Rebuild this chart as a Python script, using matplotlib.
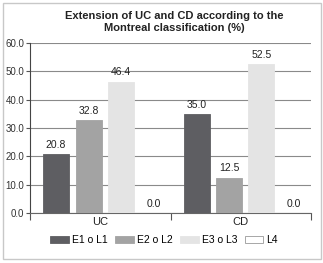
import numpy as np
import matplotlib
matplotlib.use('Agg')
import matplotlib.pyplot as plt
from matplotlib.patches import Rectangle

plt.rcParams['font.family'] = ['Liberation Sans', 'DejaVu Sans']

categories = ['UC', 'CD']
series_names = ['E1 o L1', 'E2 o L2', 'E3 o L3', 'L4']
values = {
    'E1 o L1': [20.8, 35.0],
    'E2 o L2': [32.8, 12.5],
    'E3 o L3': [46.4, 52.5],
    'L4': [0.0, 0.0],
}
colors = ['#5e5e62', '#a3a3a3', '#e4e4e4', '#ffffff']
y_ticks = [0, 10, 20, 30, 40, 50, 60]

fig = plt.figure(figsize=(3.23, 2.63), dpi=100)
fig.patch.set_facecolor('white')
fig.patches.append(Rectangle((3 / 323, 4 / 263), 318 / 323, 256 / 263,
                             transform=fig.transFigure, fill=False,
                             edgecolor='#c8c8c8', linewidth=1.0))

ax = fig.add_axes([30 / 323, 50 / 263, 281 / 323, 170 / 263])

x = np.arange(len(categories))
slot = 0.231
width = 0.185
shift = 0.032
for i, name in enumerate(series_names):
    pos = x + shift + (i - 1.5) * slot
    bars = ax.bar(pos, values[name], width, color=colors[i], label=name,
                  edgecolor=colors[i] if i < 3 else '#ffffff', linewidth=0.6,
                  zorder=3)
    for b, v in zip(bars, values[name]):
        ax.text(b.get_x() + b.get_width() / 2, v + 1.5, f'{v:.1f}',
                ha='center', va='bottom', fontsize=7.5, color='#222222')

ax.set_xlim(-0.5, 1.5)
ax.set_ylim(0, 60)
ax.set_yticks(y_ticks)
ax.set_yticklabels([f'{t:.1f}' for t in y_ticks], fontsize=7, color='#333333')
ax.yaxis.grid(True, color='#8a8a8a', linewidth=0.8, zorder=0)
ax.set_axisbelow(True)

ax.set_xticks([-0.5, 0.5, 1.5])
ax.set_xticklabels([])
ax.set_xticks(x, minor=True)
ax.set_xticklabels(categories, minor=True, fontsize=8, color='#222222')
ax.tick_params(axis='x', which='major', length=5, color='#555555', width=0.8)
ax.tick_params(axis='x', which='minor', length=0, pad=3)
ax.tick_params(axis='y', length=3, color='#555555', width=0.8, pad=1)

for s in ['top', 'right']:
    ax.spines[s].set_visible(False)
ax.spines['left'].set_color('#444444')
ax.spines['bottom'].set_color('#666666')
ax.spines['left'].set_linewidth(0.8)
ax.spines['bottom'].set_linewidth(0.8)

fig.text(174 / 323, 1 - 22 / 263,
         'Extension of UC and CD according to the\nMontreal classification (%)',
         ha='center', va='center', fontsize=8, fontweight='bold',
         color='#222222', linespacing=1.3)

handles = [Rectangle((0, 0), 1, 1, facecolor=c, edgecolor=c if i < 3 else '#999999',
                     linewidth=0.6) for i, c in enumerate(colors)]
fig.legend(handles, series_names, loc='center', bbox_to_anchor=(164 / 323, 23 / 263),
           ncol=4, frameon=False, fontsize=7.5, handlelength=1.8, handleheight=0.75,
           handletextpad=0.3, columnspacing=0.7)

fig.savefig('out.png', dpi=100)
